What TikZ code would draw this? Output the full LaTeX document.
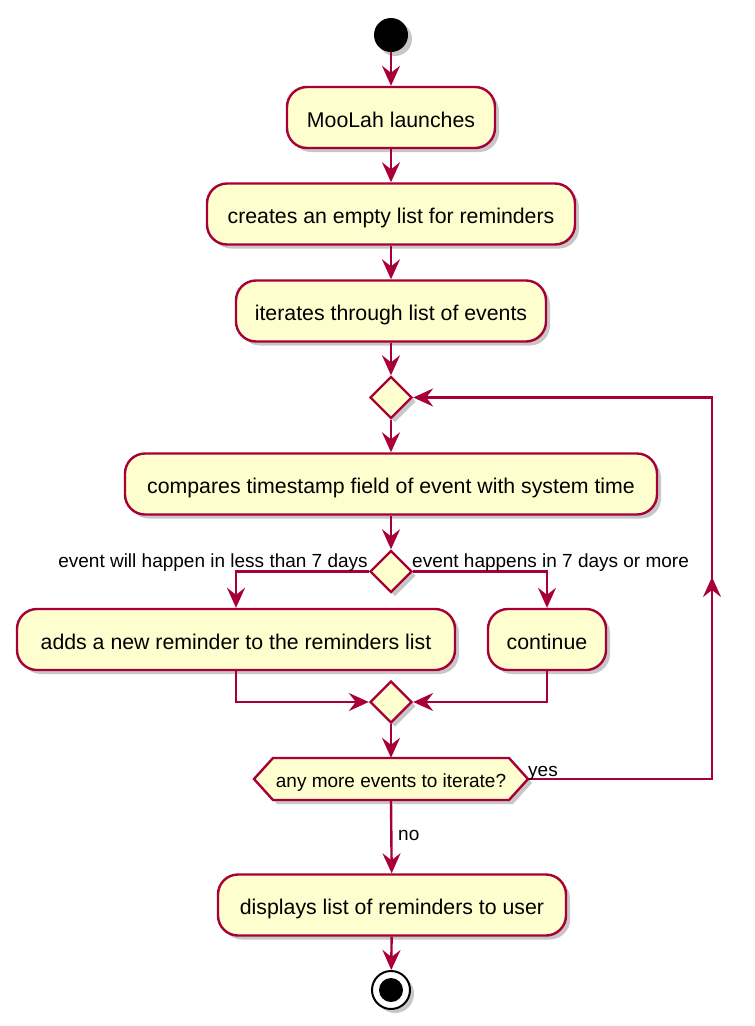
\documentclass[tikz,border=0pt]{standalone}
\usepackage{fontspec}
\setmainfont{Liberation Sans}
\usetikzlibrary{arrows.meta,shapes.geometric,shadows,calc}
\definecolor{pline}{HTML}{A80036}
\definecolor{pfill}{HTML}{FEFECE}
\tikzset{
  shad/.style={drop shadow={shadow xshift=4pt,shadow yshift=-4pt,fill=black,opacity=0.22}},
  actbox/.style={draw=pline,fill=pfill,line width=2.4pt,rounded corners=20pt,minimum height=61pt,inner sep=0pt,text height=20pt,text depth=1pt,font=\fontsize{21.3}{24}\selectfont,shad},
  decis/.style={diamond,draw=pline,fill=pfill,line width=2.4pt,minimum width=42pt,minimum height=42pt,inner sep=0pt,aspect=1,shad},
  hexpath/.style={draw=pline,fill=pfill,line width=2.4pt,line join=miter,shad},
  lbl/.style={font=\fontsize{19}{22}\selectfont,inner sep=0pt},
  conn/.style={draw=pline,line width=2.4pt},
  flow/.style={conn,-{Stealth[length=20pt,width=18pt,inset=7pt]}},
}
\begin{document}
\begin{tikzpicture}[x=1pt,y=-1pt]
\useasboundingbox (0,0) rectangle (755,1026);
\fill[white] (0,0) rectangle (755,1026);
% start
\node[circle,fill=black,minimum size=34pt,inner sep=0pt,shad] (start) at (391,35) {};
% actions
\node[actbox,minimum width=208pt] (launch) at (391,117.5) {MooLah launches};
\node[actbox,minimum width=368pt] (create) at (391,214) {creates an empty list for reminders};
\node[actbox,minimum width=310pt] (iter) at (391,311) {iterates through list of events};
\node[decis] (d1) at (391,397.5) {};
\node[actbox,minimum width=532pt] (cmp) at (391,484) {compares timestamp field of event with system time};
\node[decis] (d2) at (391,571.5) {};
\node[actbox,minimum width=438pt] (add) at (236,639.5) {adds a new reminder to the reminders list};
\node[actbox,minimum width=118pt] (cont) at (547,639.5) {continue};
\node[decis] (m) at (391,702) {};
% hexagon decision
\coordinate (qc) at (391,779);
\path[hexpath] ($(qc)+(-137,0)$) -- ($(qc)+(-118,-21)$) -- ($(qc)+(118,-21)$) -- ($(qc)+(137,0)$) -- ($(qc)+(118,21)$) -- ($(qc)+(-118,21)$) -- cycle;
\node[lbl,minimum width=274pt,minimum height=42pt,text height=17.5pt,text depth=0.5pt] (q) at (qc) {any more events to iterate?};
\node[actbox,minimum width=348pt] (disp) at (392,905) {displays list of reminders to user};
% end
\node[circle,draw=black,fill=white,line width=2pt,minimum size=38pt,inner sep=0pt,shad] (stop) at (391,990) {};
\node[circle,fill=black,minimum size=24pt,inner sep=0pt] (stopin) at (stop) {};
% connectors
\draw[flow] (start) -- (launch);
\draw[flow] (launch) -- (create);
\draw[flow] (create) -- (iter);
\draw[flow] (iter) -- (d1);
\draw[flow] (d1) -- (cmp);
\draw[flow] (cmp) -- (d2);
\draw[flow] (d2.west) -| (add.north);
\draw[flow] (d2.east) -| (cont.north);
\draw[flow] (add.south) |- (m.west);
\draw[flow] (cont.south) |- (m.east);
\draw[flow] (m) -- (q.north);
\draw[flow] (q.south) -- (disp);
\draw[flow] (disp) -- (stop);
% loop back
\coordinate (lb) at (712,779);
\coordinate (lt) at (712,397.5);
\coordinate (lm) at (712,577);
\draw[flow] (q.east) -- (lb) -- (lt) -- (d1.east);
\draw[flow] (lb) -- (lm);
% labels
\node[lbl,anchor=base east] (lless) at (368,567) {event will happen in less than 7 days};
\node[lbl,anchor=base west] (lmore) at (412,567) {event happens in 7 days or more};
\node[lbl,anchor=base west] (lyes) at (528,776) {yes};
\node[lbl,anchor=base west] (lno) at (398,840) {no};
\end{tikzpicture}
\end{document}
